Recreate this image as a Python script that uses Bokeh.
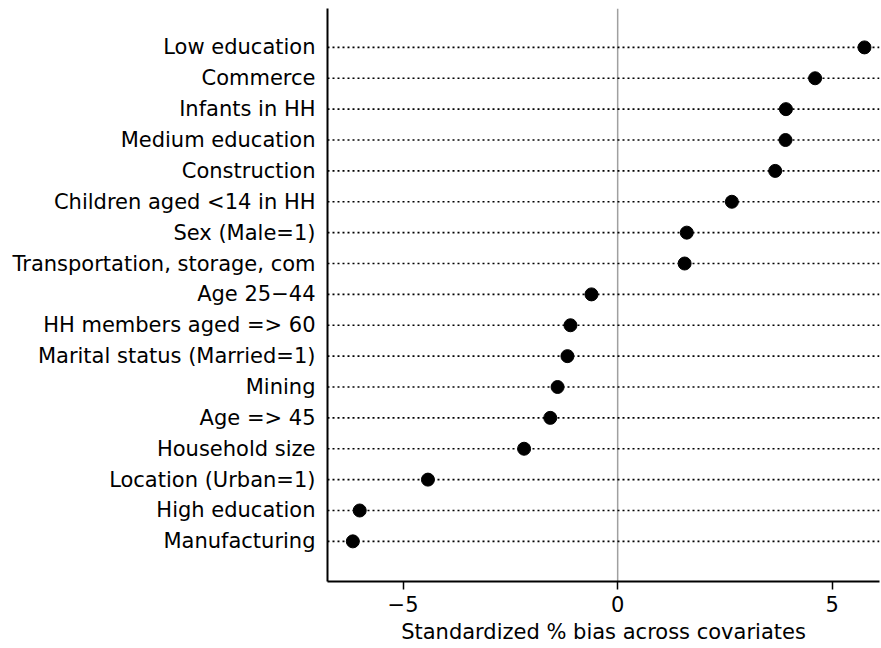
from bokeh.plotting import figure
from bokeh.models import FixedTicker, Span, ColumnDataSource, Range1d
from bokeh.embed import file_html
from bokeh.resources import INLINE

# Covariates, top to bottom, and their standardized % bias
covariates = [
    "Low education",
    "Commerce",
    "Infants in HH",
    "Medium education",
    "Construction",
    "Children aged <14 in HH",
    "Sex (Male=1)",
    "Transportation, storage, com",
    "Age 25\u221244",
    "HH members aged => 60",
    "Marital status (Married=1)",
    "Mining",
    "Age => 45",
    "Household size",
    "Location (Urban=1)",
    "High education",
    "Manufacturing",
]
bias = [5.75, 4.60, 3.92, 3.91, 3.67, 2.66, 1.61, 1.56, -0.61, -1.10,
        -1.17, -1.40, -1.57, -2.18, -4.42, -6.01, -6.17]

x_ticks = [-5, 0, 5]
x_tick_labels = ["\u22125", "0", "5"]

n = len(covariates)
ypos = [n - i for i in range(n)]  # first covariate at the top

src = ColumnDataSource(dict(y=ypos, bias=bias, name=covariates))

FONT = "DejaVu Sans"

p = figure(
    width=881, height=648,
    x_range=Range1d(-6.76, 6.10),
    y_range=Range1d(-0.3, n + 1.26),
    output_backend="svg", toolbar_location=None,
    min_border_left=327, min_border_right=2,
    min_border_top=8, min_border_bottom=67,
)
p.outline_line_color = None
p.xgrid.visible = False
p.ygrid.visible = False
p.background_fill_color = "white"
p.border_fill_color = "white"

# reference line at zero
p.add_layout(Span(location=0, dimension="height", line_color="#a0a0a0",
                  line_width=1.5, level="underlay"))

# dotted guide lines, one per covariate
for yv in ypos:
    p.add_layout(Span(location=yv, dimension="width", line_color="black",
                      line_width=1.6, line_dash="2 3", level="underlay"))

p.scatter("bias", "y", source=src, size=13, marker="circle",
          fill_color="black", line_color="black")

# y axis: covariate names, no ticks
p.yaxis.ticker = FixedTicker(ticks=ypos)
p.yaxis.major_label_overrides = {yv: lab for yv, lab in zip(ypos, covariates)}
p.yaxis.major_tick_line_color = None
p.yaxis.minor_tick_line_color = None
p.yaxis.axis_line_width = 2
p.yaxis.axis_line_color = "black"
p.yaxis.major_label_text_font = FONT
p.yaxis.major_label_text_font_size = "21px"
p.yaxis.major_label_text_color = "black"
p.yaxis.major_label_standoff = 6

# x axis
p.xaxis.ticker = FixedTicker(ticks=x_ticks)
p.xaxis.major_label_overrides = {t: s for t, s in zip(x_ticks, x_tick_labels)}
p.xaxis.minor_tick_line_color = None
p.xaxis.major_tick_in = 0
p.xaxis.major_tick_out = 8
p.xaxis.major_tick_line_width = 1.5
p.xaxis.axis_line_width = 2
p.xaxis.axis_line_color = "black"
p.xaxis.major_label_text_font = FONT
p.xaxis.major_label_text_font_size = "21px"
p.xaxis.major_label_text_color = "black"
p.xaxis.major_label_standoff = 6
p.xaxis.axis_label = "Standardized % bias across covariates"
p.xaxis.axis_label_text_font = FONT
p.xaxis.axis_label_text_font_size = "21px"
p.xaxis.axis_label_text_font_style = "normal"
p.xaxis.axis_label_text_color = "black"
p.xaxis.axis_label_standoff = 5

open("out.html", "w").write(file_html(p, INLINE))
